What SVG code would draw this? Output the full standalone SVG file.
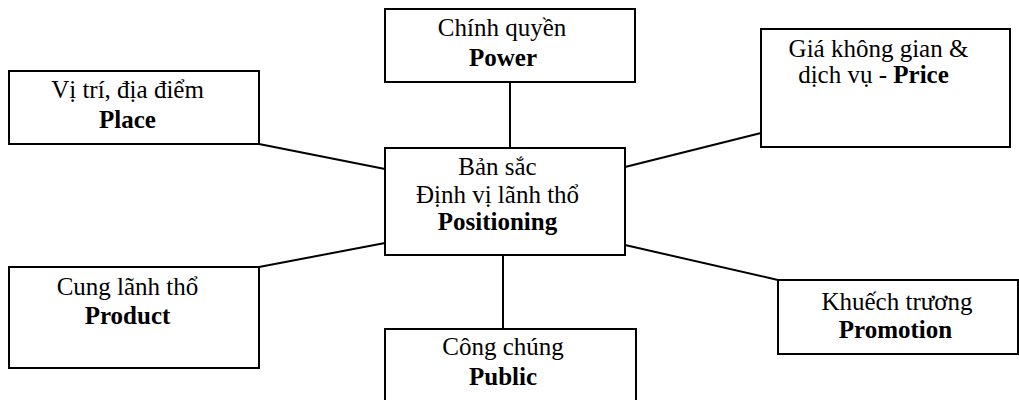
<svg xmlns="http://www.w3.org/2000/svg" width="1019" height="400" viewBox="0 0 1019 400">
<style>
.box{fill:#fff;stroke:#000;stroke-width:2}
line{stroke:#000;stroke-width:2}
text{font-family:"Liberation Serif","Times New Roman",serif;font-size:25px;fill:#000;text-anchor:middle}
.b{font-weight:bold}
</style>
<rect width="1019" height="400" fill="#fff"/>
<g id="connectors">
<line x1="510" y1="82" x2="510" y2="148"/>
<line x1="259" y1="144" x2="385" y2="169"/>
<line x1="761" y1="133" x2="625" y2="167"/>
<line x1="259" y1="267" x2="385" y2="243"/>
<line x1="625" y1="245" x2="778" y2="280"/>
<line x1="503" y1="255" x2="503" y2="329"/>
</g>
<g id="power">
<rect class="box" x="385" y="9" width="250" height="73"/>
<text x="502" y="36">Chính quyền</text>
<text x="503" y="66" class="b">Power</text>
</g>
<g id="place">
<rect class="box" x="9" y="71" width="250" height="73"/>
<text x="127.5" y="98">Vị trí, địa điểm</text>
<text x="127.5" y="128" class="b">Place</text>
</g>
<g id="price">
<rect class="box" x="761" y="29" width="249" height="118"/>
<text x="878.5" y="57">Giá không gian &amp;</text>
<text x="873.5" y="83">dịch vụ - <tspan class="b">Price</tspan></text>
</g>
<g id="positioning">
<rect class="box" x="385" y="148" width="240" height="107"/>
<text x="497.5" y="175">Bản sắc</text>
<text x="497.5" y="203">Định vị lãnh thổ</text>
<text x="497.5" y="230" class="b">Positioning</text>
</g>
<g id="product">
<rect class="box" x="9" y="267" width="250" height="101"/>
<text x="127.5" y="295">Cung lãnh thổ</text>
<text x="127.5" y="324" class="b">Product</text>
</g>
<g id="public">
<rect class="box" x="385" y="329" width="251" height="80"/>
<text x="503" y="355">Công chúng</text>
<text x="503" y="385" class="b">Public</text>
</g>
<g id="promotion">
<rect class="box" x="778" y="280" width="240" height="74"/>
<text x="897" y="310">Khuếch trương</text>
<text x="895.5" y="338" class="b">Promotion</text>
</g>
</svg>
